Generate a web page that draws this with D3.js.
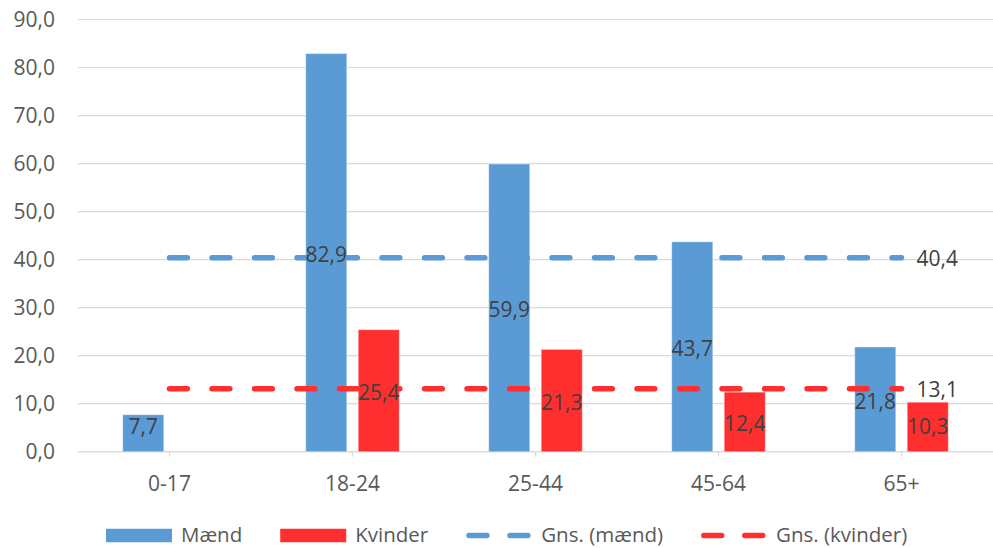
<!DOCTYPE html>
<html>
<head>
<meta charset="utf-8">
<script src="https://cdn.jsdelivr.net/npm/d3@7"></script>
<style>
  html, body { margin: 0; padding: 0; background: #fff; }
  svg { display: block; font-family: "Open Sans", "Noto Sans", sans-serif; }
</style>
</head>
<body>
<svg id="chart" width="993" height="548"></svg>
<script>
// Age groups and rates per group
const categories = ["0-17", "18-24", "25-44", "45-64", "65+"];
const maend = [7.7, 82.9, 59.9, 43.7, 21.8];
const kvinder = [null, 25.4, 21.3, 12.4, 10.3];
const avgMaend = 40.4;
const avgKvinder = 13.1;
const yTicks = [0, 10, 20, 30, 40, 50, 60, 70, 80, 90];

const seriesNames = ["Mænd", "Kvinder"];
const lineNames = ["Gns. (mænd)", "Gns. (kvinder)"];
const colors = { "Mænd": "#5b9bd5", "Kvinder": "#ff2f2f" };

const da = d3.formatLocale({ decimal: ",", thousands: ".", grouping: [3], currency: ["", " kr."] });
const fmt = da.format(".1f");

const svg = d3.select("#chart");
const plot = { left: 78, right: 993, top: 19.5, bottom: 451.7 };

const x = d3.scaleBand().domain(categories).range([plot.left, plot.right]);
const x1 = d3.scaleBand().domain(seriesNames).range([0, x.bandwidth()])
  .paddingInner(0.219).paddingOuter(0.852);
const y = d3.scaleLinear().domain([0, 90]).range([plot.bottom, plot.top]);

// Horizontal gridlines
svg.append("g")
  .selectAll("line")
  .data(yTicks)
  .join("line")
  .attr("x1", plot.left).attr("x2", plot.right)
  .attr("y1", d => y(d)).attr("y2", d => y(d))
  .attr("stroke", "#d9d9d9").attr("stroke-width", 1.2);

// Y axis labels
const yAxis = svg.append("g")
  .attr("transform", `translate(${plot.left},0)`)
  .call(d3.axisLeft(y).tickValues(yTicks).tickFormat(fmt).tickSize(0).tickPadding(23));
yAxis.select(".domain").remove();
yAxis.selectAll("text")
  .attr("font-size", 21).attr("fill", "#595959")
  .attr("font-family", "'Open Sans', sans-serif");

// X axis with tick marks at category centers
const xAxis = svg.append("g")
  .attr("transform", `translate(0,${plot.bottom})`)
  .call(d3.axisBottom(x).tickSize(5).tickPadding(19));
xAxis.select(".domain")
  .attr("d", `M${plot.left},0H${plot.right}`)
  .attr("stroke", "#d9d9d9").attr("stroke-width", 1.2);
xAxis.selectAll(".tick line").attr("stroke", "#d9d9d9").attr("stroke-width", 1.2);
xAxis.selectAll("text")
  .attr("font-size", 21).attr("fill", "#595959")
  .attr("font-family", "'Open Sans', sans-serif");

// Bars
const barData = [];
categories.forEach((c, i) => {
  if (maend[i] != null) barData.push({ cat: c, key: "Mænd", value: maend[i] });
  if (kvinder[i] != null) barData.push({ cat: c, key: "Kvinder", value: kvinder[i] });
});

svg.append("g")
  .selectAll("rect")
  .data(barData)
  .join("rect")
  .attr("x", d => x(d.cat) + x1(d.key))
  .attr("width", x1.bandwidth())
  .attr("y", d => y(d.value))
  .attr("height", d => y(0) - y(d.value))
  .attr("fill", d => colors[d.key])
  .attr("stroke", "rgba(255,255,255,0.35)")
  .attr("stroke-width", 1);

// Average lines across the categories
const avgLines = [
  { name: "Gns. (mænd)", value: avgMaend, color: colors["Mænd"] },
  { name: "Gns. (kvinder)", value: avgKvinder, color: colors["Kvinder"] }
];
const line = d3.line().x(d => x(d) + x.bandwidth() / 2);
avgLines.forEach(a => {
  svg.append("path")
    .attr("d", line.y(() => y(a.value))(categories))
    .attr("fill", "none")
    .attr("stroke", a.color)
    .attr("stroke-width", 5.5)
    .attr("stroke-linecap", "round")
    .attr("stroke-dasharray", "17.8 24.7");
  svg.append("text")
    .attr("x", x(categories[categories.length - 1]) + x.bandwidth() / 2 + 15)
    .attr("y", y(a.value) + 8.5)
    .attr("font-size", 21).attr("fill", "#404040")
    .text(fmt(a.value));
});

// Value labels centred in the bars, kept inside the bar bottom
svg.append("g")
  .selectAll("text")
  .data(barData)
  .join("text")
  .attr("x", d => x(d.cat) + x1(d.key) + x1.bandwidth() / 2)
  .attr("y", d => {
    const mid = (y(d.value) + y(0)) / 2;
    return Math.min(mid + 9.5, y(0) - 17.7);
  })
  .attr("text-anchor", "middle")
  .attr("font-size", 21).attr("fill", "#404040")
  .text(d => fmt(d.value));

// Legend
const legend = svg.append("g");
const legendItems = [
  { label: seriesNames[0], type: "rect", color: colors["Mænd"] },
  { label: seriesNames[1], type: "rect", color: colors["Kvinder"] },
  { label: lineNames[0], type: "line", color: colors["Mænd"] },
  { label: lineNames[1], type: "line", color: colors["Kvinder"] }
];
let lx = 106;
const ly = 535.5;
legendItems.forEach(it => {
  if (it.type === "rect") {
    legend.append("rect")
      .attr("x", lx).attr("y", ly - 6.75).attr("width", 66).attr("height", 13.5)
      .attr("fill", it.color);
  } else {
    legend.append("line")
      .attr("x1", lx + 2.75).attr("x2", lx + 66 - 2.75)
      .attr("y1", ly).attr("y2", ly)
      .attr("stroke", it.color).attr("stroke-width", 5.5)
      .attr("stroke-linecap", "round")
      .attr("stroke-dasharray", "17.9 23.1");
  }
  const t = legend.append("text")
    .attr("x", lx + 75).attr("y", ly + 6.5)
    .attr("font-size", 20.5).attr("fill", "#595959")
    .text(it.label);
  lx += 75 + t.node().getComputedTextLength() + 38;
});
</script>
</body>
</html>
